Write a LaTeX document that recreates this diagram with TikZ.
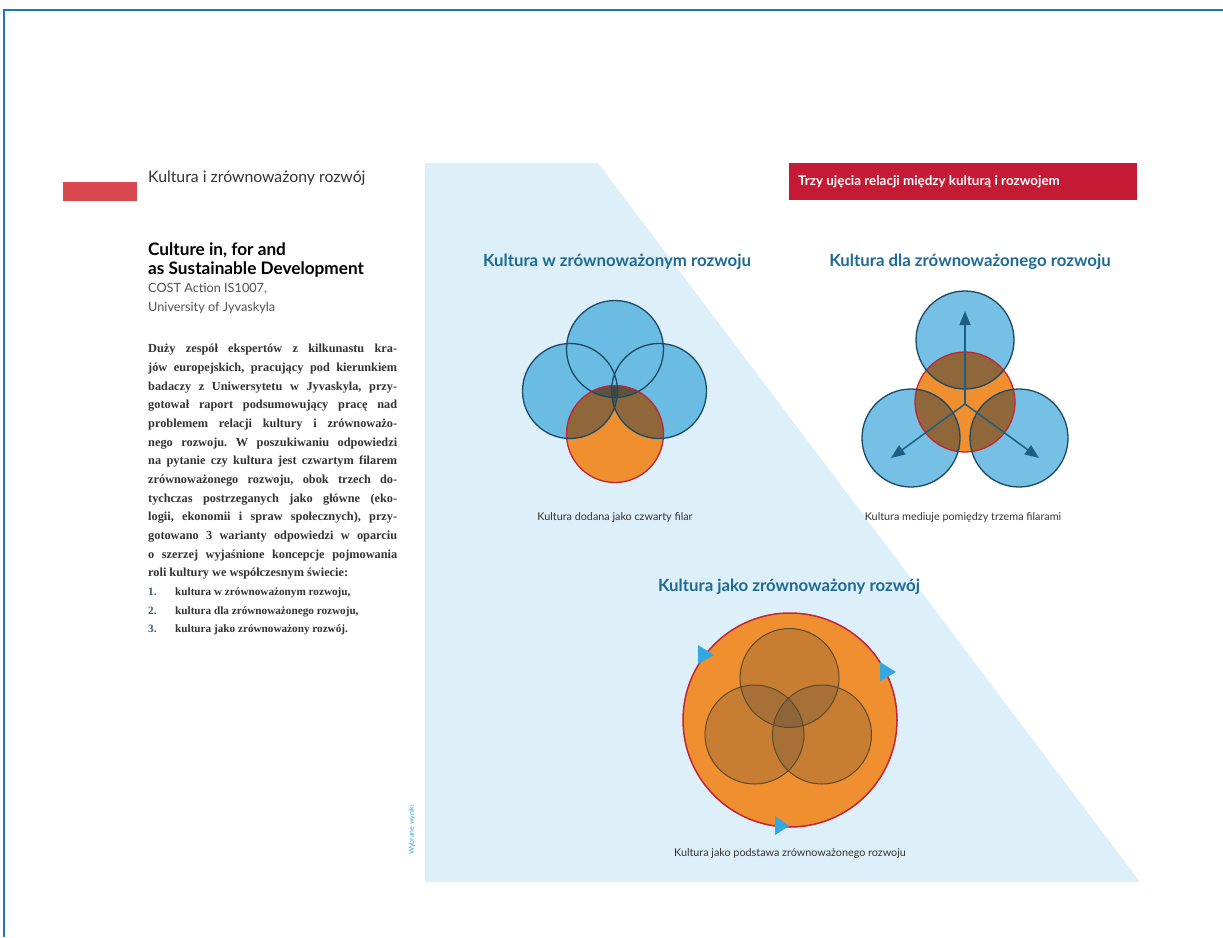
\documentclass[tikz,border=0pt]{standalone}
\usepackage{fontspec}
\setmainfont{Liberation Serif}
\newfontfamily\lato{Lato}
\usetikzlibrary{arrows.meta}
\frenchspacing
\definecolor{bgblue}{HTML}{DDEFF8}
\definecolor{framebl}{HTML}{1C74C4}
\definecolor{redbar}{HTML}{D9474F}
\definecolor{redbox}{HTML}{C51A33}
\definecolor{titleblue}{HTML}{1E6A96}
\definecolor{arrblue}{HTML}{1D5F80}
\definecolor{cblue}{HTML}{40A9DA}
\definecolor{cline}{HTML}{1B4A66}
\definecolor{corange}{HTML}{EF8F2F}
\definecolor{cred}{HTML}{C2243A}
\definecolor{shade}{HTML}{283C46}
\definecolor{tri}{HTML}{33A8E0}
\definecolor{bodytext}{HTML}{333333}
\definecolor{numblue}{HTML}{2E5A7A}
\definecolor{inner}{HTML}{5B4A2C}
\newcommand{\jline}[1]{\makebox[249pt][s]{#1}}
\begin{document}
\begin{tikzpicture}[x=1pt,y=-1pt,
  bluefill/.style={fill=cblue, fill opacity=0.72},
  blueline/.style={draw=cline, line width=1.3},
  orangefill/.style={fill=corange},
  orangeline/.style={draw=cred, line width=1.3},
  shadefill/.style={fill=shade, fill opacity=0.48},
  innerfill/.style={fill=shade, fill opacity=0.2},
  innerline/.style={draw=inner, line width=1},
  sectitle/.style={font=\lato\bfseries\fontsize{16.8}{18}\selectfont, text=titleblue, inner sep=0},
  caption/.style={font=\lato\fontsize{10.8}{12}\selectfont, text=bodytext, inner sep=0},
  arr/.style={draw=arrblue, line width=1.5, -{Triangle[length=14pt,width=11pt]}},
  tri/.style={fill=tri}
]
\useasboundingbox (0,0) rectangle (1223,937);
\fill[white] (0,0) rectangle (1223,937);
\draw[framebl, line width=1.5] (4,937) -- (4,10) -- (1223,10);

% light blue background
\fill[bgblue] (425,163) -- (598,163) -- (1140,882) -- (425,882) -- cycle;

% left column
\fill[redbar] (63,182) rectangle (137,201);
\node[anchor=west, inner sep=0, font=\lato\fontsize{15.8}{17}\selectfont, text=bodytext] (hdr) at (148,178) {Kultura i zrównoważony rozwój};
\node[anchor=north west, inner sep=0, align=left, font=\lato\bfseries\fontsize{17.2}{18.5}\selectfont, text=black] (title) at (148,243) {Culture in, for and\\as Sustainable Development};
\node[anchor=north west, inner sep=0, align=left, font=\lato\fontsize{12.7}{19}\selectfont, text=bodytext!85] (cost) at (148,283) {COST Action IS1007,\\University of Jyvaskyla};

\node[anchor=north west, inner sep=0, align=left, text=bodytext, font=\bfseries\fontsize{12.3}{18.67}\selectfont] (body) at (148,344) {%
\jline{Duży zespół ekspertów z kilkunastu kra-}\\
\jline{jów europejskich, pracujący pod kierunkiem}\\
\jline{badaczy z Uniwersytetu w Jyvaskyla, przy-}\\
\jline{gotował raport podsumowujący pracę nad}\\
\jline{problemem relacji kultury i zrównoważo-}\\
\jline{nego rozwoju. W poszukiwaniu odpowiedzi}\\
\jline{na pytanie czy kultura jest czwartym filarem}\\
\jline{zrównoważonego rozwoju, obok trzech do-}\\
\jline{tychczas postrzeganych jako główne (eko-}\\
\jline{logii, ekonomii i spraw społecznych), przy-}\\
\jline{gotowano 3 warianty odpowiedzi w oparciu}\\
\jline{o szerzej wyjaśnione koncepcje pojmowania}\\
roli kultury we współczesnym świecie:\\
{\fontsize{11.2}{18.67}\selectfont\makebox[27pt][l]{\textcolor{numblue}{1.}}kultura w zrównoważonym rozwoju,}\\
{\fontsize{11.2}{18.67}\selectfont\makebox[27pt][l]{\textcolor{numblue}{2.}}kultura dla zrównoważonego rozwoju,}\\
{\fontsize{11.2}{18.67}\selectfont\makebox[27pt][l]{\textcolor{numblue}{3.}}kultura jako zrównoważony rozwój.}};

% red header box
\node[anchor=north west, fill=redbox, minimum width=348pt, minimum height=37pt, inner sep=0] (redbox) at (789,163) {};
\node[anchor=west, inner sep=0, font=\lato\bfseries\fontsize{13.4}{15}\selectfont, text=white] (redtxt) at (798,182) {Trzy ujęcia relacji między kulturą i rozwojem};

% section titles
\node[sectitle] (t1) at (617,262) {Kultura w zrównoważonym rozwoju};
\node[sectitle] (t2) at (970,262) {Kultura dla zrównoważonego rozwoju};
\node[sectitle] (t3) at (789,587) {Kultura jako zrównoważony rozwój};

% diagram 1
\fill[bluefill] (615,349) circle (48.5) (570,391) circle (47.5) (659,391) circle (47.5);
\fill[orangefill] (615,434) circle (48.5);
\begin{scope}
\clip (615,434) circle (48.5);
\fill[shadefill] (615,349) circle (48.5);
\fill[shadefill] (570,391) circle (47.5);
\fill[shadefill] (659,391) circle (47.5);
\end{scope}
\draw[orangeline] (615,434) circle (48.5);
\draw[blueline] (615,349) circle (48.5) (570,391) circle (47.5) (659,391) circle (47.5);
\node[caption] (c1) at (615,517) {Kultura dodana jako czwarty filar};

% diagram 2
\fill[bluefill] (965,340) circle (49) (911,438) circle (49) (1019,438) circle (49);
\fill[orangefill] (965,402) circle (50);
\begin{scope}
\clip (965,402) circle (50);
\fill[shadefill] (965,340) circle (49);
\fill[shadefill] (911,438) circle (49);
\fill[shadefill] (1019,438) circle (49);
\end{scope}
\draw[orangeline] (965,402) circle (50);
\draw[blueline] (965,340) circle (49) (911,438) circle (49) (1019,438) circle (49);
\coordinate (mid) at (965,404);
\coordinate (up) at (965,311);
\coordinate (dl) at (891,458);
\coordinate (dr) at (1039,458);
\draw[arr] (mid) -- (up);
\draw[arr] (mid) -- (dl);
\draw[arr] (mid) -- (dr);
\node[caption] (c2) at (963,517) {Kultura mediuje pomiędzy trzema filarami};

% diagram 3
\fill[orangefill] (790,720) circle (107);
\draw[cred, line width=1.5] (790,720) circle (107);
\fill[innerfill] (789.5,678) circle (49.5);
\fill[innerfill] (754.5,734.5) circle (49.5);
\fill[innerfill] (822,734.5) circle (49.5);
\draw[innerline] (789.5,678) circle (49.5) (754.5,734.5) circle (49.5) (822,734.5) circle (49.5);
\fill[tri] (698,645) -- (714,655) -- (698,664) -- cycle;
\fill[tri] (880,662) -- (896,672) -- (880,681) -- cycle;
\fill[tri] (775,816) -- (789,826) -- (775,835) -- cycle;
\node[caption] (c3) at (790,853) {Kultura jako podstawa zrównoważonego rozwoju};

% vertical note
\node[rotate=90, inner sep=0, font=\lato\fontsize{7}{8}\selectfont, text=tri] (note) at (412,830) {Wybrane wyniki};
\end{tikzpicture}
\end{document}
